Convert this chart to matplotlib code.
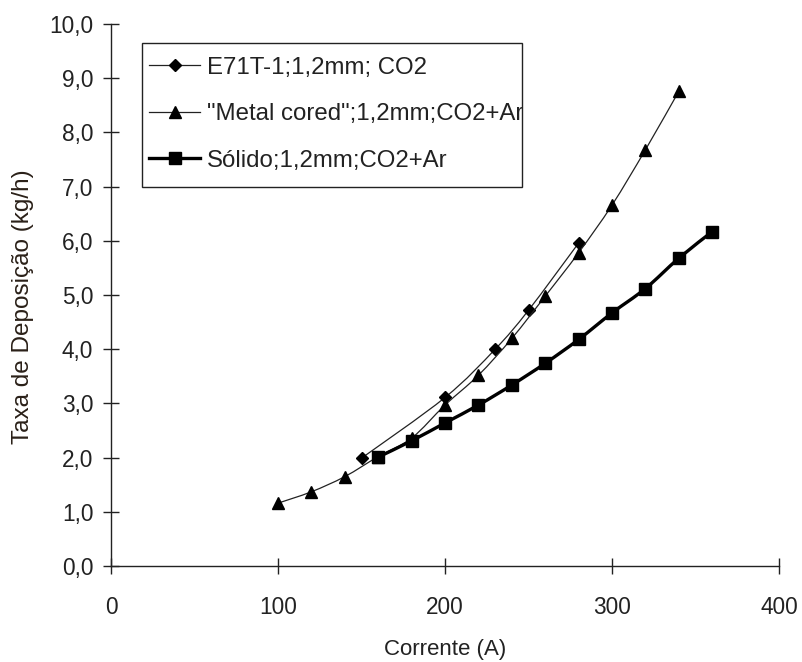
import numpy as np
import matplotlib
matplotlib.use("Agg")
import matplotlib.pyplot as plt
from matplotlib.path import Path
from matplotlib.patches import PathPatch, Rectangle
from matplotlib.lines import Line2D

plt.rcParams['font.family'] = ['Liberation Sans', 'DejaVu Sans']

# Corrente (A) x Taxa de deposição (kg/h)
e71_x = [150, 200, 230, 250, 280]
e71_y = [1.99, 3.11, 4.00, 4.72, 5.96]

mc_x = [100, 120, 140, 160, 180, 200, 220, 240, 260, 280, 300, 320, 340]
mc_y = [1.16, 1.37, 1.65, 2.02, 2.36, 2.97, 3.52, 4.20, 4.98, 5.78, 6.66, 7.68, 8.76]

sol_x = [160, 180, 200, 220, 240, 260, 280, 300, 320, 340, 360]
sol_y = [2.01, 2.31, 2.64, 2.97, 3.34, 3.74, 4.18, 4.67, 5.12, 5.68, 6.17]

labels = ['E71T-1;1,2mm; CO2', '"Metal cored";1,2mm;CO2+Ar', 'Sólido;1,2mm;CO2+Ar']
x_ticks = [0, 100, 200, 300, 400]
y_ticks = [0, 1, 2, 3, 4, 5, 6, 7, 8, 9, 10]


def smooth_path(x, y):
    # Catmull-Rom curve through the points, written as cubic Bezier segments
    pts = np.column_stack([x, y]).astype(float)
    n = len(pts)
    verts = [pts[0]]
    codes = [Path.MOVETO]
    for i in range(n - 1):
        p0 = pts[max(i - 1, 0)]
        p1 = pts[i]
        p2 = pts[i + 1]
        p3 = pts[min(i + 2, n - 1)]
        verts += [p1 + (p2 - p0) / 6, p2 - (p3 - p1) / 6, p2]
        codes += [Path.CURVE4] * 3
    return Path(verts, codes)


fig = plt.figure(figsize=(8.02, 6.62), dpi=100)
ax = fig.add_axes([0.1384, 0.145, 0.833, 0.8187])

series = [
    (e71_x, e71_y, 'D', 5.8, 0.9, '#222222'),
    (mc_x, mc_y, '^', 8, 0.9, '#222222'),
    (sol_x, sol_y, 's', 8, 2.4, '#000000'),
]
handles = []
for z, (x, y, m, ms, lw, c) in enumerate(series):
    ax.add_patch(PathPatch(smooth_path(x, y), fill=False, ec=c, lw=lw, zorder=2 + z))
    ax.plot(x, y, ls='none', marker=m, ms=ms, color='black', zorder=2.5 + z)
    handles.append(Line2D([], [], color=c, lw=lw, marker=m, ms=ms, mfc='black', mec='black'))

ax.set_xlim(0, 400)
ax.set_ylim(0, 10)
ax.set_xticks(x_ticks)
ax.set_xticklabels([str(v) for v in x_ticks])
ax.set_yticks(y_ticks)
ax.set_yticklabels([f"{v:.1f}".replace('.', ',') for v in y_ticks])

for side in ['top', 'right']:
    ax.spines[side].set_visible(False)
for side in ['left', 'bottom']:
    ax.spines[side].set_linewidth(1.0)
    ax.spines[side].set_color('#222222')

ax.tick_params(axis='both', direction='inout', length=11.5, width=1.0,
               color='#222222', labelsize=16.3, labelcolor='#222222')
ax.tick_params(axis='y', pad=7)
ax.tick_params(axis='x', pad=16)

ax.set_xlabel('Corrente (A)', fontsize=16, color='#222222', labelpad=14)
ax.set_ylabel('Taxa de Deposição (kg/h)', fontsize=17.5, color='#2a2018')
ax.yaxis.set_label_coords(-0.115, 0.478)

# legend box (texts clipped at its right edge)
frame = Rectangle((0.0464, 0.699), 0.5686, 0.266, transform=ax.transAxes,
                  fill=False, ec='#222222', lw=1.0, zorder=10)
ax.add_patch(frame)
leg = ax.legend(handles, labels, loc='upper left', bbox_to_anchor=(0.0573, 0.94),
                frameon=False, borderpad=0, borderaxespad=0, fontsize=17.3,
                handlelength=2.1, handletextpad=0.3, labelspacing=1.02)
for t in leg.get_texts():
    t.set_color('#222222')
    t.set_clip_path(frame)

fig.savefig('out.png', dpi=100)
